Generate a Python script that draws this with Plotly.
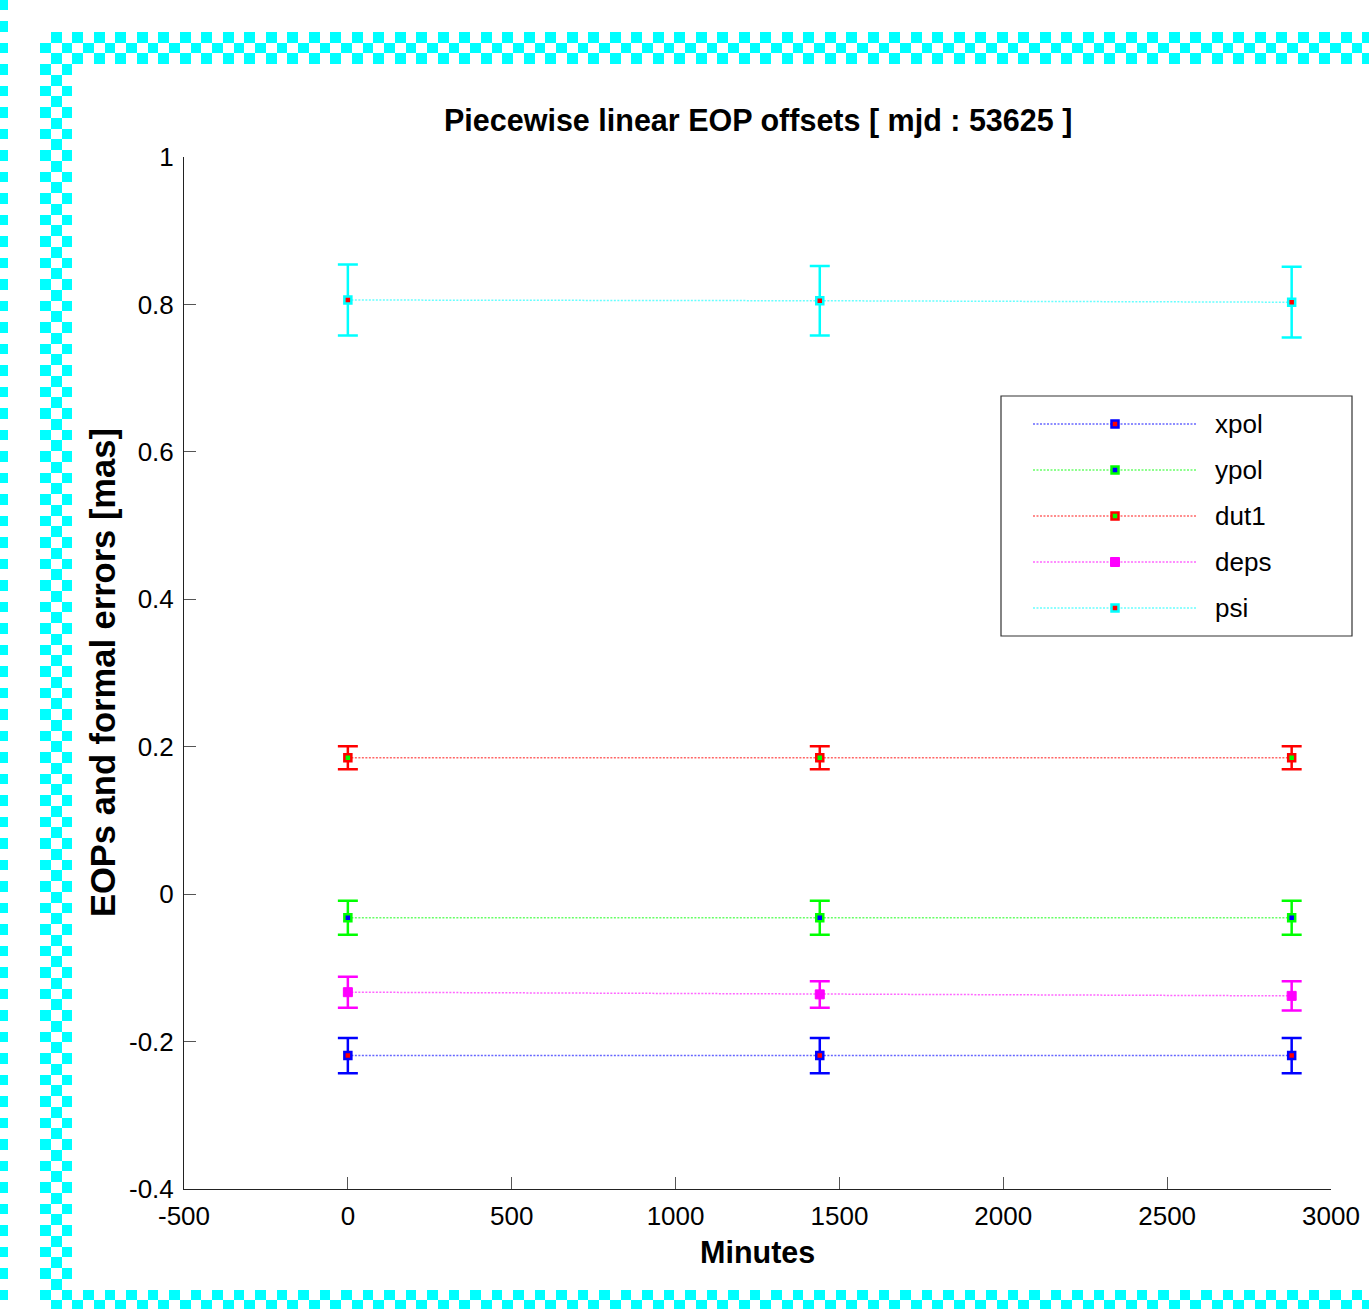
import numpy as np
import plotly.graph_objects as go

# ---- EOP estimates at the three piecewise-linear nodes (minutes) ----
minutes = [0, 1440, 2880]

series_names = ["xpol", "ypol", "dut1", "deps", "psi"]
xpol = [-0.219, -0.219, -0.219]
xpol_err = [0.024, 0.024, 0.024]
ypol = [-0.032, -0.032, -0.032]
ypol_err = [0.023, 0.023, 0.023]
dut1 = [0.185, 0.185, 0.185]
dut1_err = [0.0155, 0.0155, 0.0155]
deps = [-0.133, -0.136, -0.138]
deps_err = [0.021, 0.018, 0.020]
psi = [0.806, 0.805, 0.803]
psi_err = [0.048, 0.047, 0.048]

x_ticks = [-500, 0, 500, 1000, 1500, 2000, 2500, 3000]
x_tick_labels = ["-500", "0", "500", "1000", "1500", "2000", "2500", "3000"]
y_ticks = [-0.4, -0.2, 0, 0.2, 0.4, 0.6, 0.8, 1]
y_tick_labels = ["-0.4", "-0.2", "0", "0.2", "0.4", "0.6", "0.8", "1"]

title_text = "Piecewise linear EOP offsets [ mjd : 53625 ]"
x_label = "Minutes"
y_label = "EOPs and formal errors [mas]"

# ---- styling: (edge/line colour, marker fill colour) per series ----
styles = {
    "xpol": ("#0000ff", "#ff0000"),
    "ypol": ("#00ff00", "#0000ff"),
    "dut1": ("#ff0000", "#00ff00"),
    "deps": ("#ff00ff", "#ff00ff"),
    "psi": ("#00ffff", "#ff0000"),
}
values = {"xpol": (xpol, xpol_err), "ypol": (ypol, ypol_err), "dut1": (dut1, dut1_err),
          "deps": (deps, deps_err), "psi": (psi, psi_err)}

W, H = 1369, 1309
FONT = "Liberation Sans, Arial, Helvetica, sans-serif"


def px(x):
    return x / W


def py(y):
    return 1 - y / H


def rgba(hexcol, a):
    h = hexcol.lstrip("#")
    return "rgba(%d,%d,%d,%.2f)" % (int(h[0:2], 16), int(h[2:4], 16), int(h[4:6], 16), a)


def marker_style(name):
    edge, fill = styles[name]
    if name == "deps":
        return dict(symbol="square", size=9, color=fill, line=dict(color=edge, width=1))
    return dict(symbol="square", size=7, color=fill, line=dict(color=edge, width=2.5))


# plot box in pixels
AX_L, AX_R, AX_T, AX_B = 184, 1331, 157, 1189

fig = go.Figure()

# ---- checkered frame around the figure (decorative background) ----
CELL = 10.75
FX0, FY0 = 40.0, 32.0
cols = np.arange(-4, 125)
rows = np.arange(-3, 120)
zc = np.full((len(rows), len(cols)), np.nan)
for i, r in enumerate(rows):
    for j, c in enumerate(cols):
        in_frame = (
            c == -4
            or (0 <= c <= 2 and 0 <= r <= 118)
            or (c >= 0 and (0 <= r <= 2 or 117 <= r <= 118))
        )
        if in_frame and (r + c) % 2 == 1:
            zc[i, j] = 1.0
fig.add_trace(go.Heatmap(
    z=zc, x0=FX0 + (cols[0] + 0.5) * CELL, dx=CELL, y0=FY0 + (rows[0] + 0.5) * CELL, dy=CELL,
    colorscale=[[0, "#00ffff"], [1, "#00ffff"]], showscale=False, zsmooth=False,
    hoverinfo="skip", xaxis="x2", yaxis="y2",
))

# ---- data series with formal errors ----
for name in series_names:
    edge, fill = styles[name]
    yv, ev = values[name]
    fig.add_trace(go.Scatter(
        x=minutes, y=yv, mode="lines+markers", name=name, showlegend=False,
        line=dict(color=rgba(edge, 0.6), width=1.5, dash="2px,1.5px"),
        marker=marker_style(name),
        error_y=dict(type="data", array=ev, visible=True, color=edge, thickness=2.5, width=10),
        xaxis="x", yaxis="y",
    ))

# ---- legend drawn in its own small axes ----
LG_L, LG_R, LG_T, LG_B = 1001, 1352, 396, 636
LG_ROW0, LG_ROWSTEP = 424, 46
LG_LINE0, LG_LINE1, LG_TEXT = 1033, 1197, 1213
shapes = [dict(type="rect", xref="paper", yref="paper", x0=px(LG_L), x1=px(LG_R),
               y0=py(LG_B), y1=py(LG_T), line=dict(color="#333333", width=1.2),
               fillcolor="white", layer="below")]
annotations = []
for k, name in enumerate(series_names):
    edge, fill = styles[name]
    yrow = LG_ROW0 + k * LG_ROWSTEP
    fig.add_trace(go.Scatter(
        x=[LG_LINE0, LG_LINE1], y=[yrow, yrow], mode="lines", showlegend=False,
        line=dict(color=rgba(edge, 0.6), width=1.5, dash="2px,1.5px"),
        hoverinfo="skip", xaxis="x3", yaxis="y3",
    ))
    fig.add_trace(go.Scatter(
        x=[(LG_LINE0 + LG_LINE1) / 2], y=[yrow], mode="markers", showlegend=False,
        marker=marker_style(name),
        hoverinfo="skip", xaxis="x3", yaxis="y3",
    ))
    annotations.append(dict(text=name, x=px(LG_TEXT), y=py(yrow), xref="paper", yref="paper",
                            xanchor="left", yanchor="middle", showarrow=False,
                            font=dict(family=FONT, size=26, color="black")))

# ---- titles ----
annotations.append(dict(text="<b>%s</b>" % title_text, x=px((AX_L + AX_R) / 2), y=py(120),
                        xref="paper", yref="paper", xanchor="center", yanchor="middle",
                        showarrow=False, font=dict(family=FONT, size=30.5, color="black")))
annotations.append(dict(text="<b>%s</b>" % x_label, x=px((AX_L + AX_R) / 2), y=py(1252),
                        xref="paper", yref="paper", xanchor="center", yanchor="middle",
                        showarrow=False, font=dict(family=FONT, size=30.5, color="black")))
annotations.append(dict(text="<b>%s</b>" % y_label, x=px(103), y=py((AX_T + AX_B) / 2),
                        xref="paper", yref="paper", xanchor="center", yanchor="middle",
                        textangle=-90, showarrow=False,
                        font=dict(family=FONT, size=34.5, color="black")))

axis_common = dict(showgrid=False, zeroline=False, showline=True, linecolor="#222222",
                   linewidth=1, ticks="inside", ticklen=12, tickcolor="#555555", tickwidth=1,
                   tickfont=dict(family=FONT, size=26, color="black"), mirror=False,
                   automargin=False)
hidden = dict(visible=False, automargin=False, fixedrange=True)

fig.update_layout(
    width=W, height=H,
    margin=dict(l=0, r=0, t=0, b=0, pad=0, autoexpand=False),
    paper_bgcolor="white", plot_bgcolor="rgba(0,0,0,0)",
    showlegend=False,
    xaxis=dict(domain=[px(AX_L), px(AX_R)], range=[-500, 3000], tickvals=x_ticks,
               ticktext=x_tick_labels, anchor="y", ticklabelstandoff=4, **axis_common),
    yaxis=dict(domain=[py(AX_B), py(AX_T)], range=[-0.4, 1], tickvals=y_ticks,
               ticktext=y_tick_labels, anchor="x", ticklabelstandoff=4, **axis_common),
    xaxis2=dict(domain=[0, 1], range=[0, W], anchor="y2", **hidden),
    yaxis2=dict(domain=[0, 1], range=[H, 0], anchor="x2", **hidden),
    xaxis3=dict(domain=[px(LG_L), px(LG_R)], range=[LG_L, LG_R], anchor="y3", **hidden),
    yaxis3=dict(domain=[py(LG_B), py(LG_T)], range=[LG_B, LG_T], anchor="x3", **hidden),
    shapes=shapes,
    annotations=annotations,
)

fig.write_html("out.html")
